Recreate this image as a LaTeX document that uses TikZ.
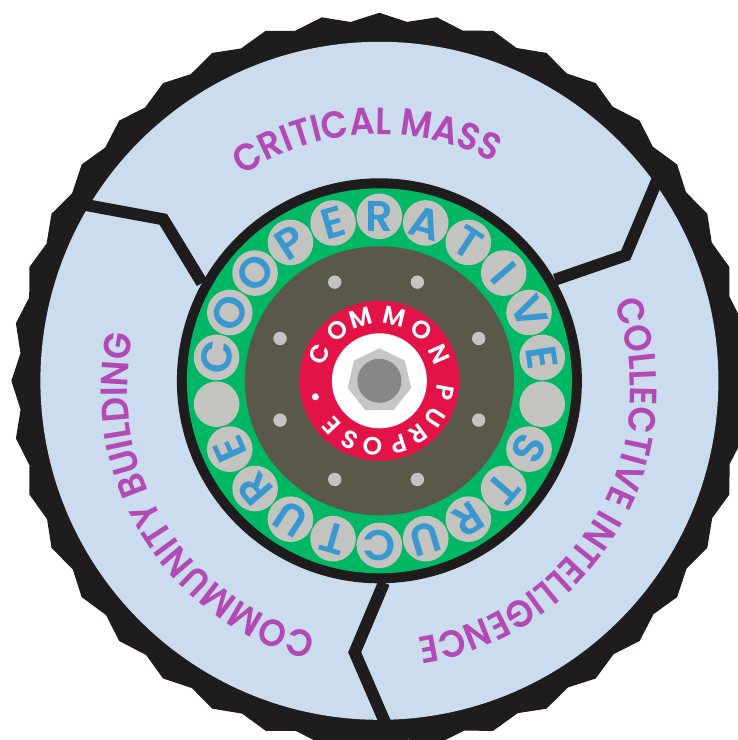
\documentclass[tikz,border=0pt]{standalone}
\usepackage{fontspec}
\usetikzlibrary{decorations.text}
\setmainfont{Poppins}
\newfontfamily\pops{Poppins SemiBold}
\newfontfamily\popc[FakeStretch=0.92]{Poppins SemiBold}
\definecolor{ringblack}{HTML}{1E1C1C}
\definecolor{diskblue}{HTML}{CBDCEE}
\definecolor{ringgreen}{HTML}{00B764}
\definecolor{hubbrown}{HTML}{5A5849}
\definecolor{pinkred}{HTML}{E31348}
\definecolor{pegrey}{HTML}{C3C3C0}
\definecolor{letterblue}{HTML}{3A98D0}
\definecolor{txtpurple}{HTML}{B249B4}
\definecolor{nutgrey}{HTML}{C6C6C6}
\definecolor{coregrey}{HTML}{878787}
\tikzset{
  x=1pt,y=1pt,
  sepline/.style={draw=ringblack,line width=12pt,line join=miter,miter limit=6},
  pegdisc/.style={circle,fill=pegrey,draw=none,minimum size=45.6pt,inner sep=0pt},
  pegletter/.style={text=letterblue,font=\pops\fontsize{43}{43}\selectfont,inner sep=0pt},
  hubdot/.style={circle,fill=pegrey,draw=none,minimum size=13.4pt,inner sep=0pt},
  hubletter/.style={text=white,font=\pops\fontsize{25}{25}\selectfont,inner sep=0pt},
}
\newcommand{\arctext}[5]{% middle angle (clockwise from top), size, text, centre drop, radius
  \path[shift={(0,-#4)},decorate,decoration={text along path,text align={center},
     text={|\popc\fontsize{#2}{#2}\selectfont\color{txtpurple}|#3}}]
     ({90-#1+85}:#5) arc[start angle=90-#1+85,end angle=90-#1-85,radius=#5];
}
\begin{document}
\begin{tikzpicture}
\useasboundingbox (-379.4,-359.2) rectangle (358.6,380.8);
\clip (-379.4,-359.2) rectangle (358.6,380.8);
% gear
\fill[ringblack]
  (90:368) \foreach \k in {0,...,39}{ -- ({90-9*\k-4.4}:360) -- ({90-9*\k-9}:368) } -- cycle;
\fill[diskblue] (0,0) circle[radius=339];
% separators
\coordinate (sa1) at (75-379.4,380.8-203);
\coordinate (sa2) at (163.3-379.4,380.8-219.3);
\coordinate (sa3) at (202-379.4,380.8-283);
\coordinate (sb1) at (384-379.4,380.8-582.7);
\coordinate (sb2) at (354.7-379.4,380.8-652.3);
\coordinate (sb3) at (388.3-379.4,380.8-730);
\coordinate (sc1) at (661-379.4,380.8-171);
\coordinate (sc2) at (625.7-379.4,380.8-255.3);
\coordinate (sc3) at (555-379.4,380.8-279.7);
\draw[sepline] (sa1) -- (sa2) -- (sa3);
\draw[sepline] (sb1) -- (sb2) -- (sb3);
\draw[sepline] (sc1) -- (sc2) -- (sc3);
% rings
\fill[ringblack] (0,0) circle[radius=202.5];
\fill[ringgreen] (0,0) circle[radius=192.5];
\fill[hubbrown] (0,0) circle[radius=134.5];
% pegs
\foreach \l [count=\i from 0] in {C,O,O,P,E,R,A,T,I,V,E,{},S,T,R,U,C,T,U,R,E,{}}{
  \pgfmathsetmacro{\ang}{(\i-5)*360/22}
  \node[pegdisc] (peg\i) at ({90-\ang}:164.5) {};
  \node[pegletter,rotate=-\ang] (pl\i) at ({90-\ang}:164.5) {\l};
}
% hub dots
\foreach \px/\py [count=\i] in {494/336,742/336,330/505,926/505,330/750,926/750,494/928,742/928}{
  \node[hubdot] (dot\i) at ({(\px-628)/3},{(632-\py)/3}) {};
}
% centre
\fill[pinkred] (0,0) circle[radius=80];
\fill[white] (0,0) circle[radius=47.5];
\fill[nutgrey] (90:32.5) \foreach \k in {1,...,6}{ -- ({90-\k*360/7}:32.5) } -- cycle;
\fill[coregrey] (0,0) circle[radius=22];
\foreach \l/\ang [count=\i] in {C/-65.9,O/-39.9,M/-16.7,M/13.5,O/39.5,N/65.9,P/100.3,U/123.3,R/144.3,P/162.7,O/185.9,S/207,E/227}{
  \node[hubletter,rotate=-\ang] (hl\i) at ({90-\ang}:66) {\l};
}
\node[circle,fill=white,minimum size=7pt,inner sep=0pt] (hubdotw) at ({90-256}:66) {};
% outer labels
\arctext{-3}{38}{CRITICAL MASS}{0}{246.5}
\arctext{120.5}{38}{COLLECTIVE INTELLIGENCE}{9}{251}
\arctext{238.5}{38}{COMMUNITY BUILDING}{9}{252}
\end{tikzpicture}
\end{document}
